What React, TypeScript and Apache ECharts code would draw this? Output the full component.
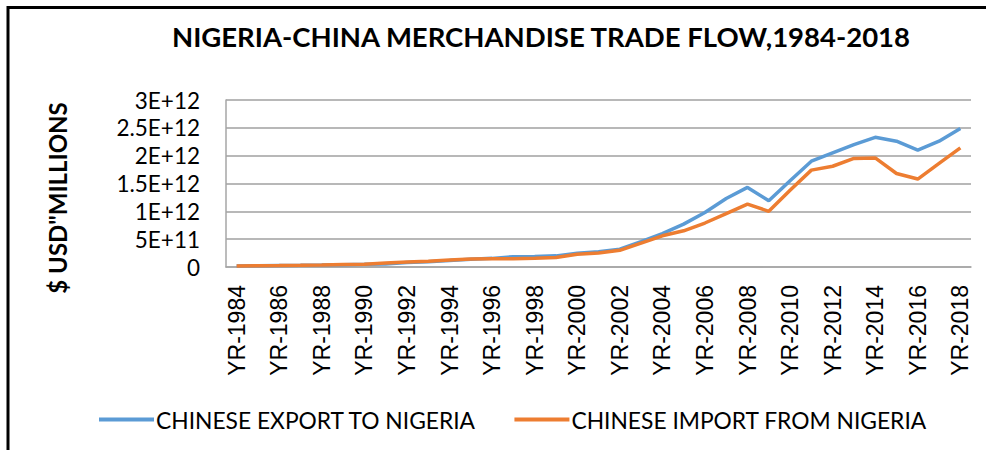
import React, { useEffect, useRef } from "react";
import * as echarts from "echarts";

const categories = [
  "YR-1984", "YR-1985", "YR-1986", "YR-1987", "YR-1988", "YR-1989", "YR-1990",
  "YR-1991", "YR-1992", "YR-1993", "YR-1994", "YR-1995", "YR-1996", "YR-1997",
  "YR-1998", "YR-1999", "YR-2000", "YR-2001", "YR-2002", "YR-2003", "YR-2004",
  "YR-2005", "YR-2006", "YR-2007", "YR-2008", "YR-2009", "YR-2010", "YR-2011",
  "YR-2012", "YR-2013", "YR-2014", "YR-2015", "YR-2016", "YR-2017", "YR-2018",
];

const exportToNigeria = [
  2.0e10, 2.4e10, 2.7e10, 3.0e10, 3.4e10, 4.2e10, 4.8e10,
  5.5e10, 8.0e10, 9.5e10, 1.15e11, 1.4e11, 1.55e11, 1.85e11,
  1.9e11, 2.0e11, 2.45e11, 2.75e11, 3.2e11, 4.55e11, 6.0e11,
  7.7e11, 9.8e11, 1.23e12, 1.43e12, 1.19e12, 1.55e12, 1.9e12,
  2.05e12, 2.2e12, 2.33e12, 2.26e12, 2.1e12, 2.26e12, 2.49e12,
];

const importFromNigeria = [
  1.8e10, 2.3e10, 2.6e10, 3.0e10, 3.5e10, 4.5e10, 5.0e10,
  7.0e10, 9.0e10, 1.05e11, 1.25e11, 1.45e11, 1.5e11, 1.5e11,
  1.55e11, 1.7e11, 2.3e11, 2.5e11, 3.0e11, 4.3e11, 5.6e11,
  6.5e11, 7.9e11, 9.6e11, 1.13e12, 1.0e12, 1.38e12, 1.74e12,
  1.81e12, 1.95e12, 1.96e12, 1.68e12, 1.58e12, 1.86e12, 2.14e12,
];

const yTickLabels = ["0", "5E+11", "1E+12", "1.5E+12", "2E+12", "2.5E+12", "3E+12"];
const seriesNames = ["CHINESE EXPORT TO NIGERIA", "CHINESE IMPORT FROM NIGERIA"];
const titleText = "NIGERIA-CHINA MERCHANDISE TRADE FLOW,1984-2018";
const yAxisName = "$ USD\"MILLIONS";

const Y_STEP = 5e11;

export default function App() {
  const ref = useRef<HTMLDivElement>(null);

  useEffect(() => {
    if (!ref.current) return;
    const chart = echarts.init(ref.current, undefined, { renderer: "svg" });
    chart.setOption({
      animation: false,
      backgroundColor: "#ffffff",
      title: {
        text: titleText,
        left: 536,
        top: 17,
        textAlign: "center",
        textStyle: {
          fontFamily: "Lato",
          fontWeight: "bold",
          fontSize: 27.5,
          color: "#000000",
        },
      },
      legend: {
        left: 94,
        top: 403,
        icon: "rect",
        itemWidth: 55,
        itemHeight: 4,
        itemGap: 38,
        textStyle: {
          fontFamily: "Lato",
          fontSize: 22.8,
          color: "#000000",
          padding: [0, 0, 0, -3],
        },
        data: seriesNames,
      },
      grid: {
        left: 226,
        top: 100,
        right: 15,
        bottom: 183,
        containLabel: false,
      },
      xAxis: {
        type: "category",
        data: categories,
        boundaryGap: true,
        axisLine: { show: true, lineStyle: { color: "#a6a6a6", width: 1.5 } },
        axisTick: { show: false },
        axisLabel: {
          interval: 1,
          rotate: 90,
          margin: 18,
          fontFamily: "Liberation Sans",
          fontSize: 23,
          color: "#000000",
        },
        splitLine: { show: false },
      },
      yAxis: {
        type: "value",
        min: 0,
        max: 3e12,
        interval: Y_STEP,
        axisLine: { show: true, lineStyle: { color: "#a6a6a6", width: 1.5 } },
        axisTick: { show: false },
        axisLabel: {
          margin: 26,
          fontFamily: "Lato",
          fontSize: 22.5,
          color: "#000000",
          formatter: (v: number) => yTickLabels[Math.round(v / Y_STEP)] ?? String(v),
        },
        splitLine: { show: true, lineStyle: { color: "#a0a0a0", width: 1.5 } },
      },
      graphic: [
        {
          type: "line",
          shape: { x1: 8, y1: 7.5, x2: 986, y2: 7.5 },
          style: { stroke: "#000000", lineWidth: 3 },
        },
        {
          type: "line",
          shape: { x1: 8, y1: 6, x2: 8, y2: 450 },
          style: { stroke: "#000000", lineWidth: 3 },
        },
        {
          type: "text",
          x: 57,
          y: 198,
          rotation: Math.PI / 2,
          style: {
            text: yAxisName,
            fontFamily: "Lato",
            fontWeight: "bold",
            fontSize: 24,
            fill: "#000000",
            align: "center",
            verticalAlign: "middle",
          },
        },
      ],
      series: [
        {
          name: seriesNames[0],
          type: "line",
          data: exportToNigeria,
          showSymbol: false,
          symbol: "none",
          lineStyle: { color: "#5B9BD5", width: 3.5 },
          itemStyle: { color: "#5B9BD5" },
        },
        {
          name: seriesNames[1],
          type: "line",
          data: importFromNigeria,
          showSymbol: false,
          symbol: "none",
          lineStyle: { color: "#ED7D31", width: 3.5 },
          itemStyle: { color: "#ED7D31" },
        },
      ],
    });
    return () => chart.dispose();
  }, []);

  return (
    <div
      ref={ref}
      style={{ position: "absolute", left: 0, top: 0, width: 986, height: 450 }}
    />
  );
}
